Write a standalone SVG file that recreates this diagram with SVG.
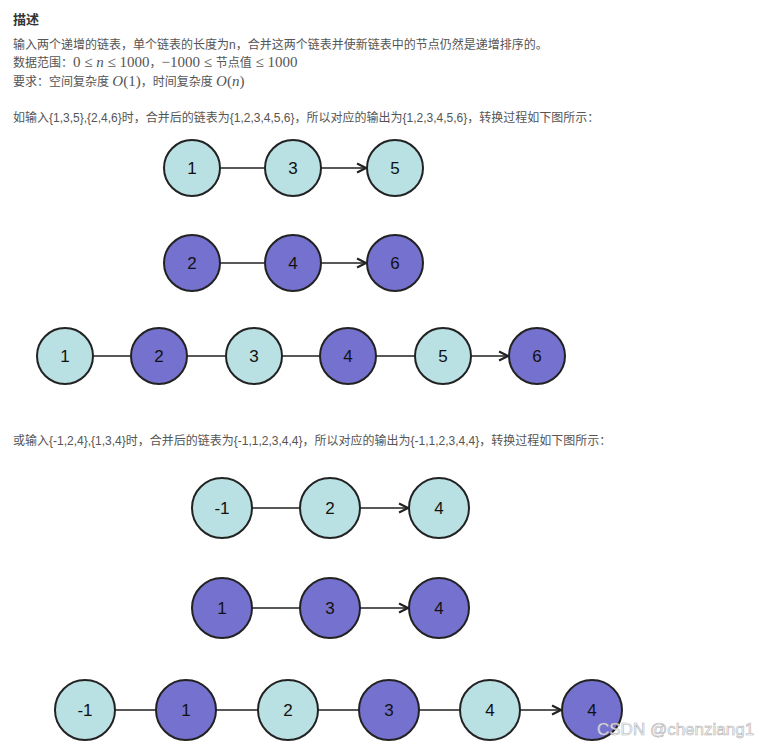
<svg xmlns="http://www.w3.org/2000/svg" width="784" height="749" viewBox="0 0 784 749">
<style>
.t{font-family:"Liberation Sans","Noto Sans CJK SC",sans-serif;font-size:12px;fill:#555}
.m{font-family:"Liberation Serif",serif;font-size:15px;fill:#555}
.mi{font-style:italic}
.l{fill:#b9e0e3;stroke:#222;stroke-width:2}
.d{fill:#7571cf;stroke:#222;stroke-width:2}
.n{font-family:"Liberation Sans",sans-serif;font-size:17px;fill:#111;text-anchor:middle;dominant-baseline:central}
.c{stroke:#222;stroke-width:1.6;fill:none;marker-end:url(#a)}
</style>
<defs><marker id="a" viewBox="0 0 10 10" refX="9" refY="5" markerWidth="7" markerHeight="7" orient="auto"><path d="M1 1L9 5L1 9" fill="none" stroke="#222" stroke-width="1.8"/></marker></defs>
<rect width="784" height="749" fill="#fff"/>
<text x="13" y="24" font-family="Liberation Sans,Noto Sans CJK SC,sans-serif" font-size="13" font-weight="bold" fill="#333">描述</text>
<text class="t" x="13" y="49">输入两个递增的链表，单个链表的长度为n，合并这两个链表并使新链表中的节点仍然是递增排序的。</text>
<text class="t" x="13" y="67">数据范围：<tspan class="m">0 ≤ <tspan class="mi">n</tspan> ≤ 1000</tspan>，<tspan class="m">−1000 ≤ </tspan>节点值<tspan class="m"> ≤ 1000</tspan></text>
<text class="t" x="13" y="86">要求：空间复杂度 <tspan class="m"><tspan class="mi">O</tspan>(1)</tspan>，时间复杂度 <tspan class="m"><tspan class="mi">O</tspan>(<tspan class="mi">n</tspan>)</tspan></text>
<text class="t" x="13" y="122">如输入{1,3,5},{2,4,6}时，合并后的链表为{1,2,3,4,5,6}，所以对应的输出为{1,2,3,4,5,6}，转换过程如下图所示：</text>
<text class="t" x="13" y="445">或输入{-1,2,4},{1,3,4}时，合并后的链表为{-1,1,2,3,4,4}，所以对应的输出为{-1,1,2,3,4,4}，转换过程如下图所示：</text>
<g id="connectors">
<path class="c" d="M220 168H264M321 168H366"/>
<path class="c" d="M220 263H264M321 263H366"/>
<path class="c" d="M93 356H130M187 356H225M282 356H319M376 356H414M471 356H508"/>
<path class="c" d="M252 508H299M360 508H408"/>
<path class="c" d="M252 608H299M360 608H408"/>
<path class="c" d="M115 710H155M216 710H257M318 710H358M419 710H459M520 710H561"/>
</g>
<g id="a1"><circle class="l" cx="192" cy="168" r="28"/><text class="n" x="192" y="168">1</text></g>
<g id="a3"><circle class="l" cx="293" cy="168" r="28"/><text class="n" x="293" y="168">3</text></g>
<g id="a5"><circle class="l" cx="395" cy="168" r="28"/><text class="n" x="395" y="168">5</text></g>
<g id="b2"><circle class="d" cx="192" cy="263" r="28"/><text class="n" x="192" y="263">2</text></g>
<g id="b4"><circle class="d" cx="293" cy="263" r="28"/><text class="n" x="293" y="263">4</text></g>
<g id="b6"><circle class="d" cx="395" cy="263" r="28"/><text class="n" x="395" y="263">6</text></g>
<g id="c1"><circle class="l" cx="65" cy="356" r="28"/><text class="n" x="65" y="356">1</text></g>
<g id="c2"><circle class="d" cx="159" cy="356" r="28"/><text class="n" x="159" y="356">2</text></g>
<g id="c3"><circle class="l" cx="254" cy="356" r="28"/><text class="n" x="254" y="356">3</text></g>
<g id="c4"><circle class="d" cx="348" cy="356" r="28"/><text class="n" x="348" y="356">4</text></g>
<g id="c5"><circle class="l" cx="443" cy="356" r="28"/><text class="n" x="443" y="356">5</text></g>
<g id="c6"><circle class="d" cx="537" cy="356" r="28"/><text class="n" x="537" y="356">6</text></g>
<g id="d1"><circle class="l" cx="222" cy="508" r="30"/><text class="n" x="222" y="508">-1</text></g>
<g id="d2"><circle class="l" cx="330" cy="508" r="30"/><text class="n" x="330" y="508">2</text></g>
<g id="d3"><circle class="l" cx="439" cy="508" r="30"/><text class="n" x="439" y="508">4</text></g>
<g id="e1"><circle class="d" cx="222" cy="608" r="30"/><text class="n" x="222" y="608">1</text></g>
<g id="e2"><circle class="d" cx="330" cy="608" r="30"/><text class="n" x="330" y="608">3</text></g>
<g id="e3"><circle class="d" cx="439" cy="608" r="30"/><text class="n" x="439" y="608">4</text></g>
<g id="f1"><circle class="l" cx="85" cy="710" r="30"/><text class="n" x="85" y="710">-1</text></g>
<g id="f2"><circle class="d" cx="186" cy="710" r="30"/><text class="n" x="186" y="710">1</text></g>
<g id="f3"><circle class="l" cx="288" cy="710" r="30"/><text class="n" x="288" y="710">2</text></g>
<g id="f4"><circle class="d" cx="389" cy="710" r="30"/><text class="n" x="389" y="710">3</text></g>
<g id="f5"><circle class="l" cx="490" cy="710" r="30"/><text class="n" x="490" y="710">4</text></g>
<g id="f6"><circle class="d" cx="592" cy="710" r="30"/><text class="n" x="592" y="710">4</text></g>
<text x="597" y="735" font-family="Liberation Sans,sans-serif" font-size="17" fill="#fff" stroke="#aaa" stroke-width="0.6" opacity="0.9">CSDN @chenziang1</text>
</svg>
